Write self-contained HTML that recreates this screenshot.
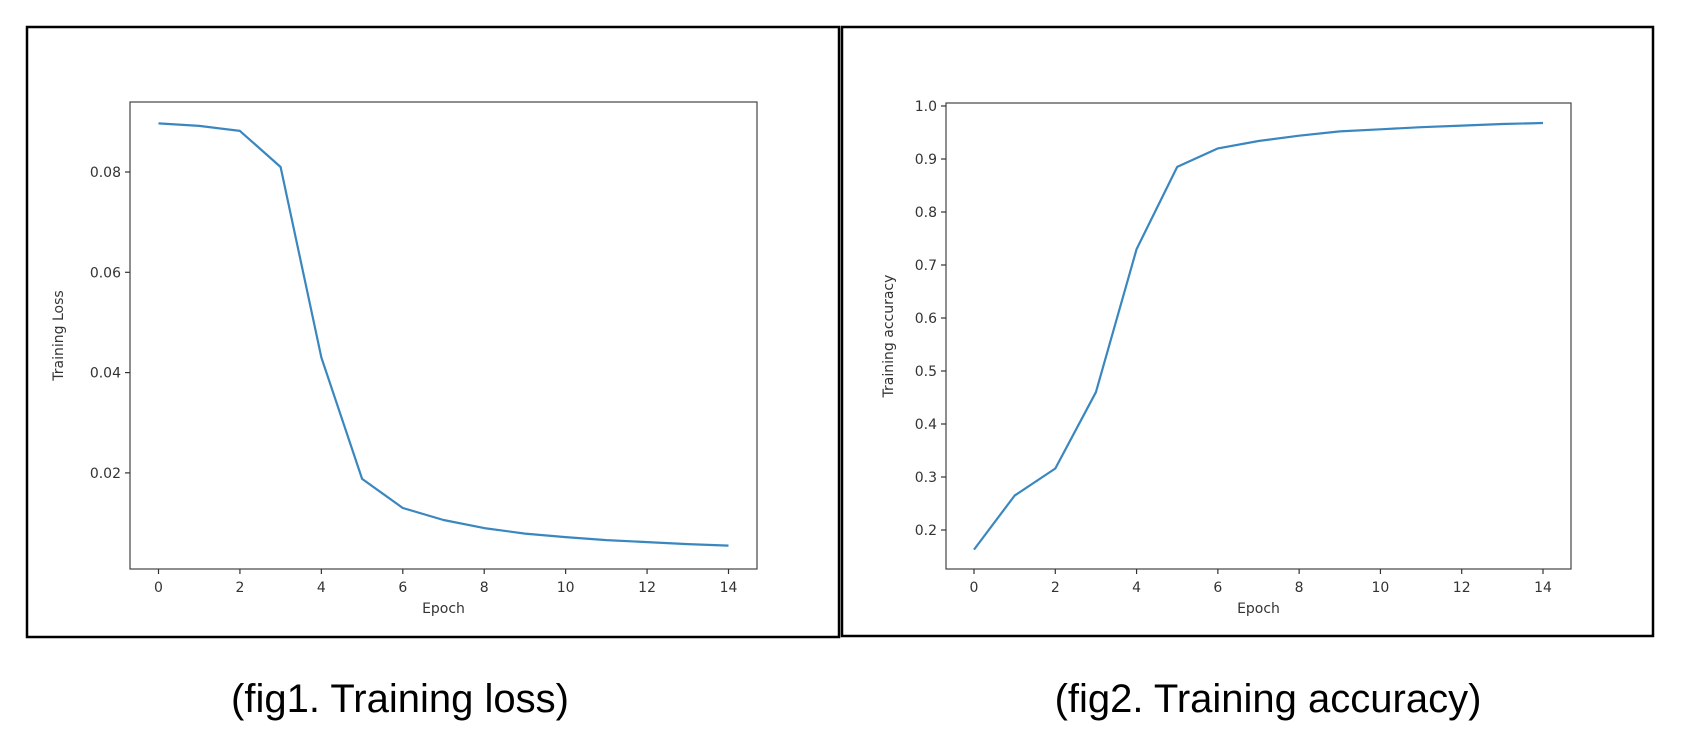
<!DOCTYPE html>
<html><head><meta charset="utf-8"><style>
html,body{margin:0;padding:0;background:#fff;width:1682px;height:736px;overflow:hidden}
svg{display:block}
.tick{font-family:"DejaVu Sans","Liberation Sans",sans-serif;font-size:14px;fill:#333}
.lab{font-family:"DejaVu Sans","Liberation Sans",sans-serif;font-size:14px;fill:#333}
.cap{font-family:"Liberation Sans",sans-serif;font-size:40px;fill:#000}
</style></head><body>
<svg id="s" width="1682" height="736">
<rect x="27" y="27" width="812" height="610" fill="none" stroke="#000" stroke-width="2.5"/>
<rect x="842" y="27" width="811" height="609" fill="none" stroke="#000" stroke-width="2.5"/>
<text x="400" y="712" text-anchor="middle" class="cap">(fig1. Training loss)</text>
<text x="1268" y="712" text-anchor="middle" class="cap">(fig2. Training accuracy)</text>
<g id="c1"></g>
<g id="c2"></g>
</svg>
<script>
const epochs=[0,1,2,3,4,5,6,7,8,9,10,11,12,13,14];
const lossValues=[0.0897,0.0892,0.0882,0.081,0.043,0.0188,0.013,0.0106,0.009,0.0079,0.0072,0.0066,0.0062,0.0058,0.0055];
const accValues=[0.163,0.265,0.316,0.46,0.73,0.885,0.92,0.934,0.944,0.952,0.956,0.96,0.963,0.966,0.968];
const xTicks=[0,2,4,6,8,10,12,14];
const lossTicks=[0.02,0.04,0.06,0.08];
const lossTickLabels=["0.02","0.04","0.06","0.08"];
const accTicks=[0.2,0.3,0.4,0.5,0.6,0.7,0.8,0.9,1.0];
const accTickLabels=["0.2","0.3","0.4","0.5","0.6","0.7","0.8","0.9","1.0"];
const NS="http://www.w3.org/2000/svg";
function mk(tag,attrs,parent){const e=document.createElementNS(NS,tag);for(const k in attrs)e.setAttribute(k,attrs[k]);parent.appendChild(e);return e;}
function draw(g,cfg){
  const {L,T,R,B,x0,x14,yA,yAv,yPer,vals,ticks,labels,ylabel,pre}=cfg;
  const xs=v=>x0+(x14-x0)*v/14;
  const ys=v=>yA-(v-yAv)*yPer;
  const ax=mk('rect',{x:L,y:T,width:R-L,height:B-T,fill:'none',stroke:'#444','stroke-width':1.2},g);
  
  
  xTicks.forEach(t=>{
    const x=xs(t);
    const l=mk('line',{x1:x,x2:x,y1:B,y2:B+5,stroke:'#333','stroke-width':1.2},g);
    
    
    const tx=mk('text',{x:x,y:B+23,'text-anchor':'middle',class:'tick'},g);tx.textContent=t;
    
    
  });
  ticks.forEach((t,i)=>{
    const y=ys(t);
    const l=mk('line',{x1:L-5,x2:L,y1:y,y2:y,stroke:'#333','stroke-width':1.2},g);
    
    
    const tx=mk('text',{x:L-9,y:y+5,'text-anchor':'end',class:'tick'},g);tx.textContent=labels[i];
    
    
  });
  const xl=mk('text',{x:(L+R)/2,y:B+44,'text-anchor':'middle',class:'lab'},g);xl.textContent='Epoch';
  
  
  const yx=cfg.ylx,yy=(T+B)/2;
  const yl=mk('text',{x:yx,y:yy,'text-anchor':'middle',class:'lab',transform:`rotate(-90 ${yx} ${yy})`},g);yl.textContent=ylabel;
  
  
  const pts=epochs.map((e,i)=>xs(e).toFixed(1)+','+ys(vals[i]).toFixed(1)).join(' ');
  const pl=mk('polyline',{points:pts,fill:'none',stroke:'#3a87c0','stroke-width':2.2,'stroke-linejoin':'round'},g);
  
  
}
draw(document.getElementById('c1'),{L:130,T:102,R:757,B:569,x0:158.5,x14:728.5,yA:172,yAv:0.08,yPer:5015,vals:lossValues,ticks:lossTicks,labels:lossTickLabels,ylabel:'Training Loss',pre:'loss',ylx:63});
draw(document.getElementById('c2'),{L:946,T:103,R:1571,B:569,x0:974,x14:1543,yA:106,yAv:1.0,yPer:530,vals:accValues,ticks:accTicks,labels:accTickLabels,ylabel:'Training accuracy',pre:'accuracy',ylx:893});
</script>
</body></html>
